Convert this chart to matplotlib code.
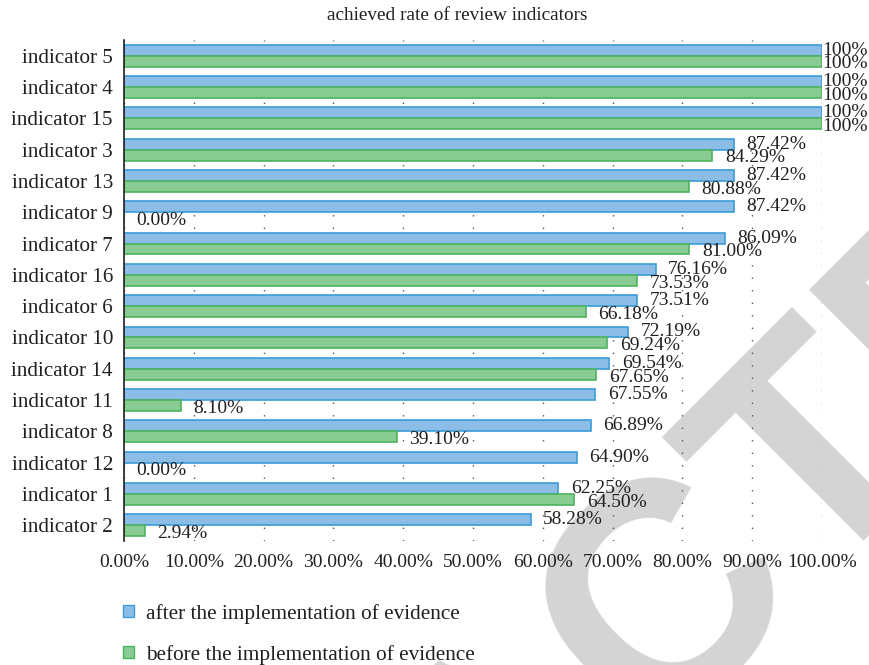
import numpy as np
import matplotlib
matplotlib.use('Agg')
import matplotlib.pyplot as plt
from matplotlib.patches import Patch

plt.rcParams['font.family'] = ['Liberation Serif', 'DejaVu Serif']

indicators = ['indicator 5', 'indicator 4', 'indicator 15', 'indicator 3', 'indicator 13',
              'indicator 9', 'indicator 7', 'indicator 16', 'indicator 6', 'indicator 10',
              'indicator 14', 'indicator 11', 'indicator 8', 'indicator 12', 'indicator 1',
              'indicator 2']
after = [100, 100, 100, 87.42, 87.42, 87.42, 86.09, 76.16, 73.51, 72.19,
         69.54, 67.55, 66.89, 64.90, 62.25, 58.28]
before = [100, 100, 100, 84.29, 80.88, 0.00, 81.00, 73.53, 66.18, 69.24,
          67.65, 8.10, 39.10, 0.00, 64.50, 2.94]
xticks = [0, 10, 20, 30, 40, 50, 60, 70, 80, 90, 100]

blue_fill, blue_edge = '#8bbde6', '#3b9cd8'
green_fill, green_edge = '#88cc93', '#4cb35c'
txt = '#231f20'

fig = plt.figure(figsize=(8.69, 6.65), dpi=100)
ax = fig.add_axes([0.1427, 0.1865, 0.8032, 0.7533])
ax.set_facecolor('none')

# retraction watermark behind everything
fig.text(0.587, -0.141, 'RETRACTED', rotation=45, rotation_mode='anchor',
         ha='center', va='center', fontsize=225, fontweight='bold',
         family='Liberation Sans', color='#d4d4d4', zorder=-5)

y = np.arange(len(indicators))
h = 0.35
ax.barh(y - h / 2, after, height=h, color=blue_fill, edgecolor=blue_edge, linewidth=1.2, zorder=2)
ax.barh(y + h / 2, before, height=h, color=green_fill, edgecolor=green_edge, linewidth=1.2, zorder=2)

def lab(v):
    return '100%' if v >= 100 else '%.2f%%' % v

for i in range(len(indicators)):
    for v, yy, dy in [(after[i], y[i] - h / 2, 0), (before[i], y[i] + h / 2, -2)]:
        off = 0 if v >= 100 else 9
        ax.annotate(lab(v), (v, yy), xytext=(off, dy), textcoords='offset points',
                    ha='left', va='center', fontsize=14, color=txt,
                    annotation_clip=False, zorder=3)

ax.set_ylim(len(indicators) - 0.5, -0.5)
ax.set_xlim(0, 100)
ax.set_yticks(y)
ax.set_yticklabels(indicators, fontsize=15.2, color=txt)
ax.set_xticks(xticks)
ax.set_xticklabels(['%.2f%%' % t for t in xticks], fontsize=14, color=txt)
ax.tick_params(axis='y', length=0, pad=8)
ax.tick_params(axis='x', length=0, pad=9.5)

for s in ['top', 'right', 'bottom']:
    ax.spines[s].set_visible(False)
ax.spines['left'].set_linewidth(1.2)
ax.spines['left'].set_color(txt)
ax.spines['left'].set_zorder(4)

ax.xaxis.grid(True, color='#555555', linewidth=1.0, linestyle=(0, (1, 8)), zorder=0)
ax.set_axisbelow(True)

fig.text(0.526, 0.977, 'achieved rate of review indicators', ha='center', va='center',
         fontsize=13.9, color=txt)

handles = [Patch(facecolor=blue_fill, edgecolor=blue_edge, label='after the implementation of evidence'),
           Patch(facecolor=green_fill, edgecolor=green_edge, label='before the implementation of evidence')]
fig.legend(handles=handles, loc='upper left', bbox_to_anchor=(123 / 869, 1 - 604 / 665),
           frameon=False, fontsize=15.3, handlelength=0.5, handleheight=0.5,
           handletextpad=0.6, labelspacing=0.98, borderpad=0, borderaxespad=0,
           labelcolor=txt)

fig.savefig('out.png', dpi=100)
